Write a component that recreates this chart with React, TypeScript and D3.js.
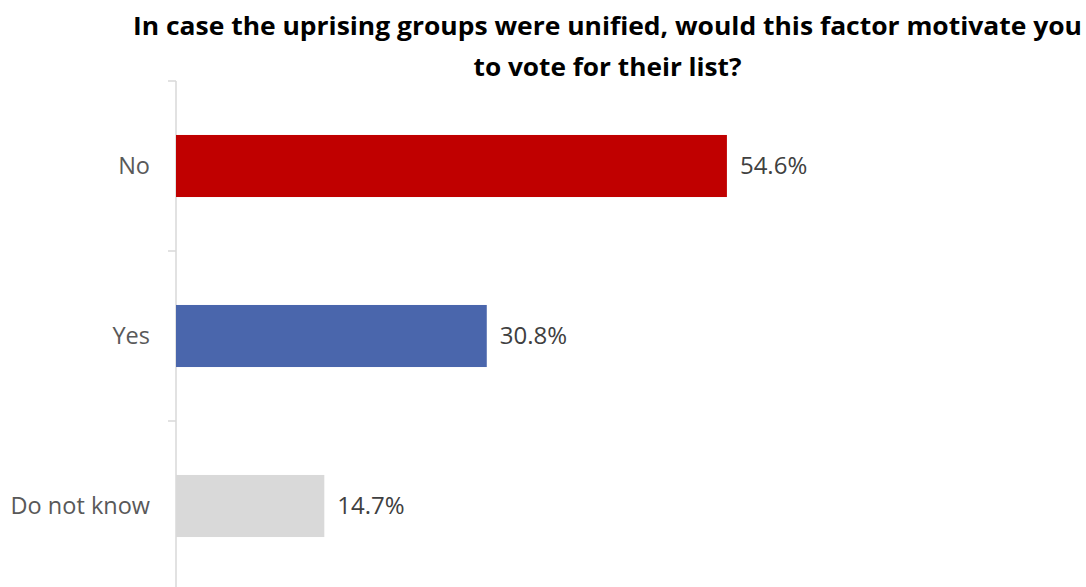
import React from "react";
import * as d3 from "d3";

const categories = ["No", "Yes", "Do not know"];
const values = [54.6, 30.8, 14.7];
const colors = ["#C00000", "#4A66AC", "#D9D9D9"];
const titleLines = [
  "In case the uprising groups were unified, would this factor motivate you",
  "to vote for their list?",
];

export default function App() {
  const W = 1086;
  const H = 587;
  const x0 = 176;
  const y = d3.scaleBand<string>().domain(categories).range([81, 591]).paddingInner(0.635).paddingOuter(0.3175);
  const x = d3.scaleLinear().domain([0, 1]).range([x0, x0 + 10.09]);
  const tickYs = [81, 251, 421, 591];
  const font = "'Open Sans', sans-serif";
  return (
    <svg width={W} height={H} style={{ position: "absolute", left: 0, top: 0, background: "#fff" }}>
      <text x={607.5} y={35} textAnchor="middle" fontFamily={font} fontWeight="bold" fontSize={25} fill="#000" textLength={949} lengthAdjust="spacingAndGlyphs">
        {titleLines[0]}
      </text>
      <text x={607.5} y={76} textAnchor="middle" fontFamily={font} fontWeight="bold" fontSize={25} fill="#000" textLength={268} lengthAdjust="spacingAndGlyphs">
        {titleLines[1]}
      </text>
      <line x1={x0} x2={x0} y1={81} y2={H} stroke="#D9D9D9" strokeWidth={1.5} />
      {tickYs.map((t) => (
        <line key={t} x1={168} x2={x0} y1={t} y2={t} stroke="#D9D9D9" strokeWidth={1.5} />
      ))}
      {categories.map((c, i) => (
        <g key={c}>
          <rect x={x0} y={y(c)} width={x(values[i]) - x0} height={y.bandwidth()} fill={colors[i]} />
          <text x={150} y={(y(c) as number) + y.bandwidth() / 2} dy="0.35em" textAnchor="end" fontFamily={font} fontSize={23.5} fill="#595959">
            {c}
          </text>
          <text x={x(values[i]) + 13} y={(y(c) as number) + y.bandwidth() / 2} dy="0.35em" fontFamily={font} fontSize={24} fill="#404040">
            {values[i].toFixed(1) + "%"}
          </text>
        </g>
      ))}
    </svg>
  );
}
